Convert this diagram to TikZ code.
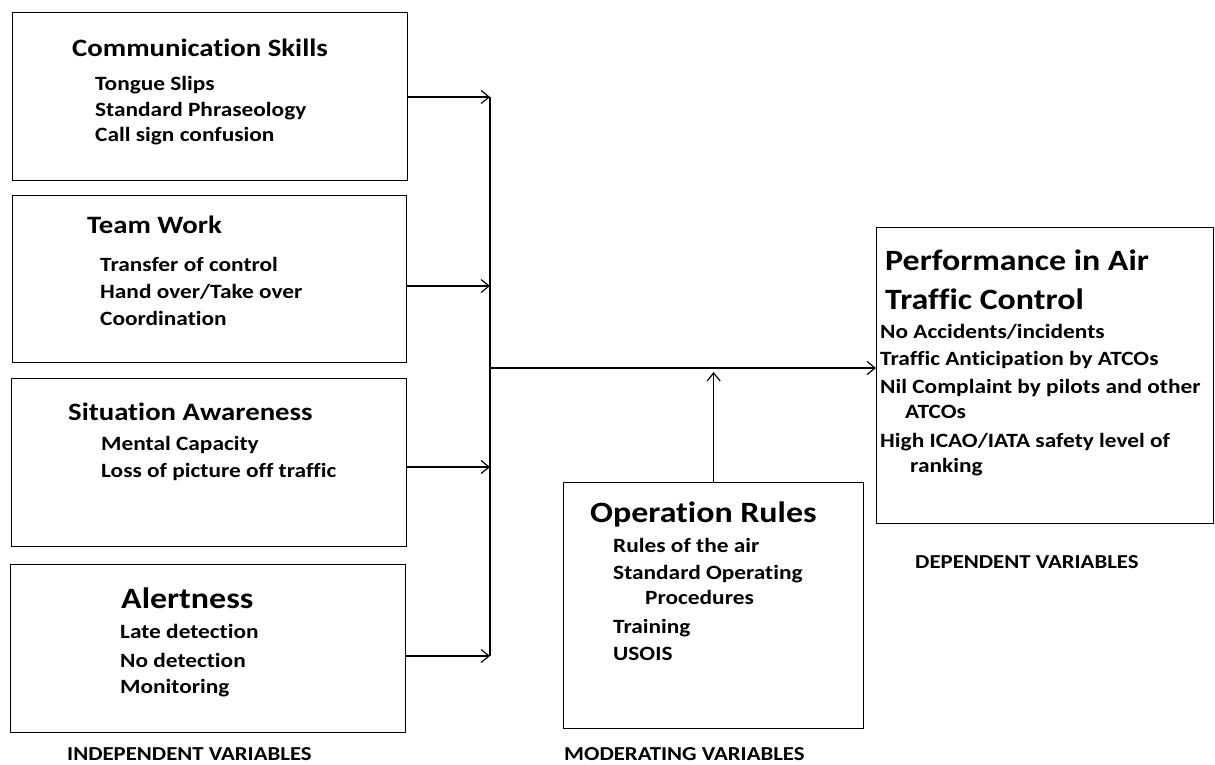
\documentclass[tikz,border=0pt]{standalone}
\usepackage{fontspec}
\setmainfont{Carlito}[FakeStretch=1.15,Ligatures=NoCommon]
\usetikzlibrary{arrows.meta, positioning}
\tikzstyle{box}=[draw,rectangle,line width=1.3pt,inner sep=0pt,anchor=north west]
\tikzstyle{ttl}=[inner sep=0pt,anchor=base west,font=\bfseries\fontsize{25}{29}\selectfont]
\tikzstyle{bigttl}=[ttl,font=\bfseries\fontsize{29.5}{33}\selectfont]
\tikzstyle{itm}=[inner sep=0pt,anchor=base west,font=\bfseries\fontsize{20.3}{24}\selectfont]
\tikzstyle{lbl}=[itm,font=\bfseries\fontsize{19.8}{23}\selectfont]
\tikzstyle{flow}=[->,line width=1.2pt]
\begin{document}
\begin{tikzpicture}[x=1pt,y=-1pt,>={Straight Barb[length=8pt,width=13pt]}]
\useasboundingbox (0,0) rectangle (1215,764);
% independent variables
\node[box,minimum width=395pt,minimum height=168pt] (cs) at (12,12) {};
\node[box,minimum width=394pt,minimum height=167pt] (tw) at (12,195) {};
\node[box,minimum width=395pt,minimum height=168pt] (sa) at (11,378) {};
\node[box,minimum width=395pt,minimum height=168pt] (al) at (10,564) {};
% moderating and dependent variables
\node[box,minimum width=300pt,minimum height=246pt] (op) at (563,482) {};
\node[box,minimum width=337pt,minimum height=296pt] (perf) at (876,227) {};

\node[ttl] (cs-t) at (72,56) {Communication Skills};
\foreach \t/\y [count=\i] in {Tongue Slips/90, Standard Phraseology/116, Call sign confusion/141}
    {\node[itm] (cs-\i) at (95,\y) {\t};}
\node[ttl] (tw-t) at (87,233) {Team Work};
\foreach \t/\y [count=\i] in {Transfer of control/271, {Hand over/Take over}/298, Coordination/325}
    {\node[itm] (tw-\i) at (100,\y) {\t};}
\node[ttl] (sa-t) at (68,420) {Situation Awareness};
\foreach \t/\y [count=\i] in {Mental Capacity/450, Loss of picture off traffic/477}
    {\node[itm] (sa-\i) at (101,\y) {\t};}
\node[bigttl] (al-t) at (121,608) {Alertness};
\foreach \t/\y [count=\i] in {Late detection/638, No detection/667, Monitoring/693}
    {\node[itm] (al-\i) at (120,\y) {\t};}
\node[bigttl] (op-t) at (590,522) {Operation Rules};
\foreach \x/\y/\t [count=\i] in {613/552/Rules of the air, 613/579/Standard Operating, 645/604/Procedures, 613/633/Training, 613/660/USOIS}
    {\node[itm] (op-\i) at (\x,\y) {\t};}
\node[bigttl] (perf-t1) at (885,270) {Performance in Air};
\node[bigttl] (perf-t2) at (885,309) {Traffic Control};
\foreach \x/\y/\t [count=\i] in {880/338/{No Accidents/incidents}, 880/365/Traffic Anticipation by ATCOs, 880/393/Nil Complaint by pilots and other, 905/418/ATCOs, 880/447/{High ICAO/IATA safety level of}, 910/472/ranking}
    {\node[itm] (perf-\i) at (\x,\y) {\t};}

\node[lbl] (ind) at (67,760) {INDEPENDENT VARIABLES};
\node[lbl] (mod) at (564,760) {MODERATING VARIABLES};
\node[lbl] (dep) at (915,568) {DEPENDENT VARIABLES};

% connectors
\coordinate (b1) at (490,97);
\coordinate (b2) at (490,286);
\coordinate (b3) at (490,467);
\coordinate (b4) at (490,656);
\coordinate (j) at (490,368);
\draw[line width=1.2pt] (b1) -- (b4);
\foreach \n/\b in {cs/b1, tw/b2, sa/b3, al/b4}
    {\draw[flow] (\n.east |- \b) -- (\b);}
\draw[flow] (j) -- (perf.west |- j);
\draw[flow] (op.north) -- ([yshift=-4pt]op.north |- j);
\end{tikzpicture}
\end{document}
